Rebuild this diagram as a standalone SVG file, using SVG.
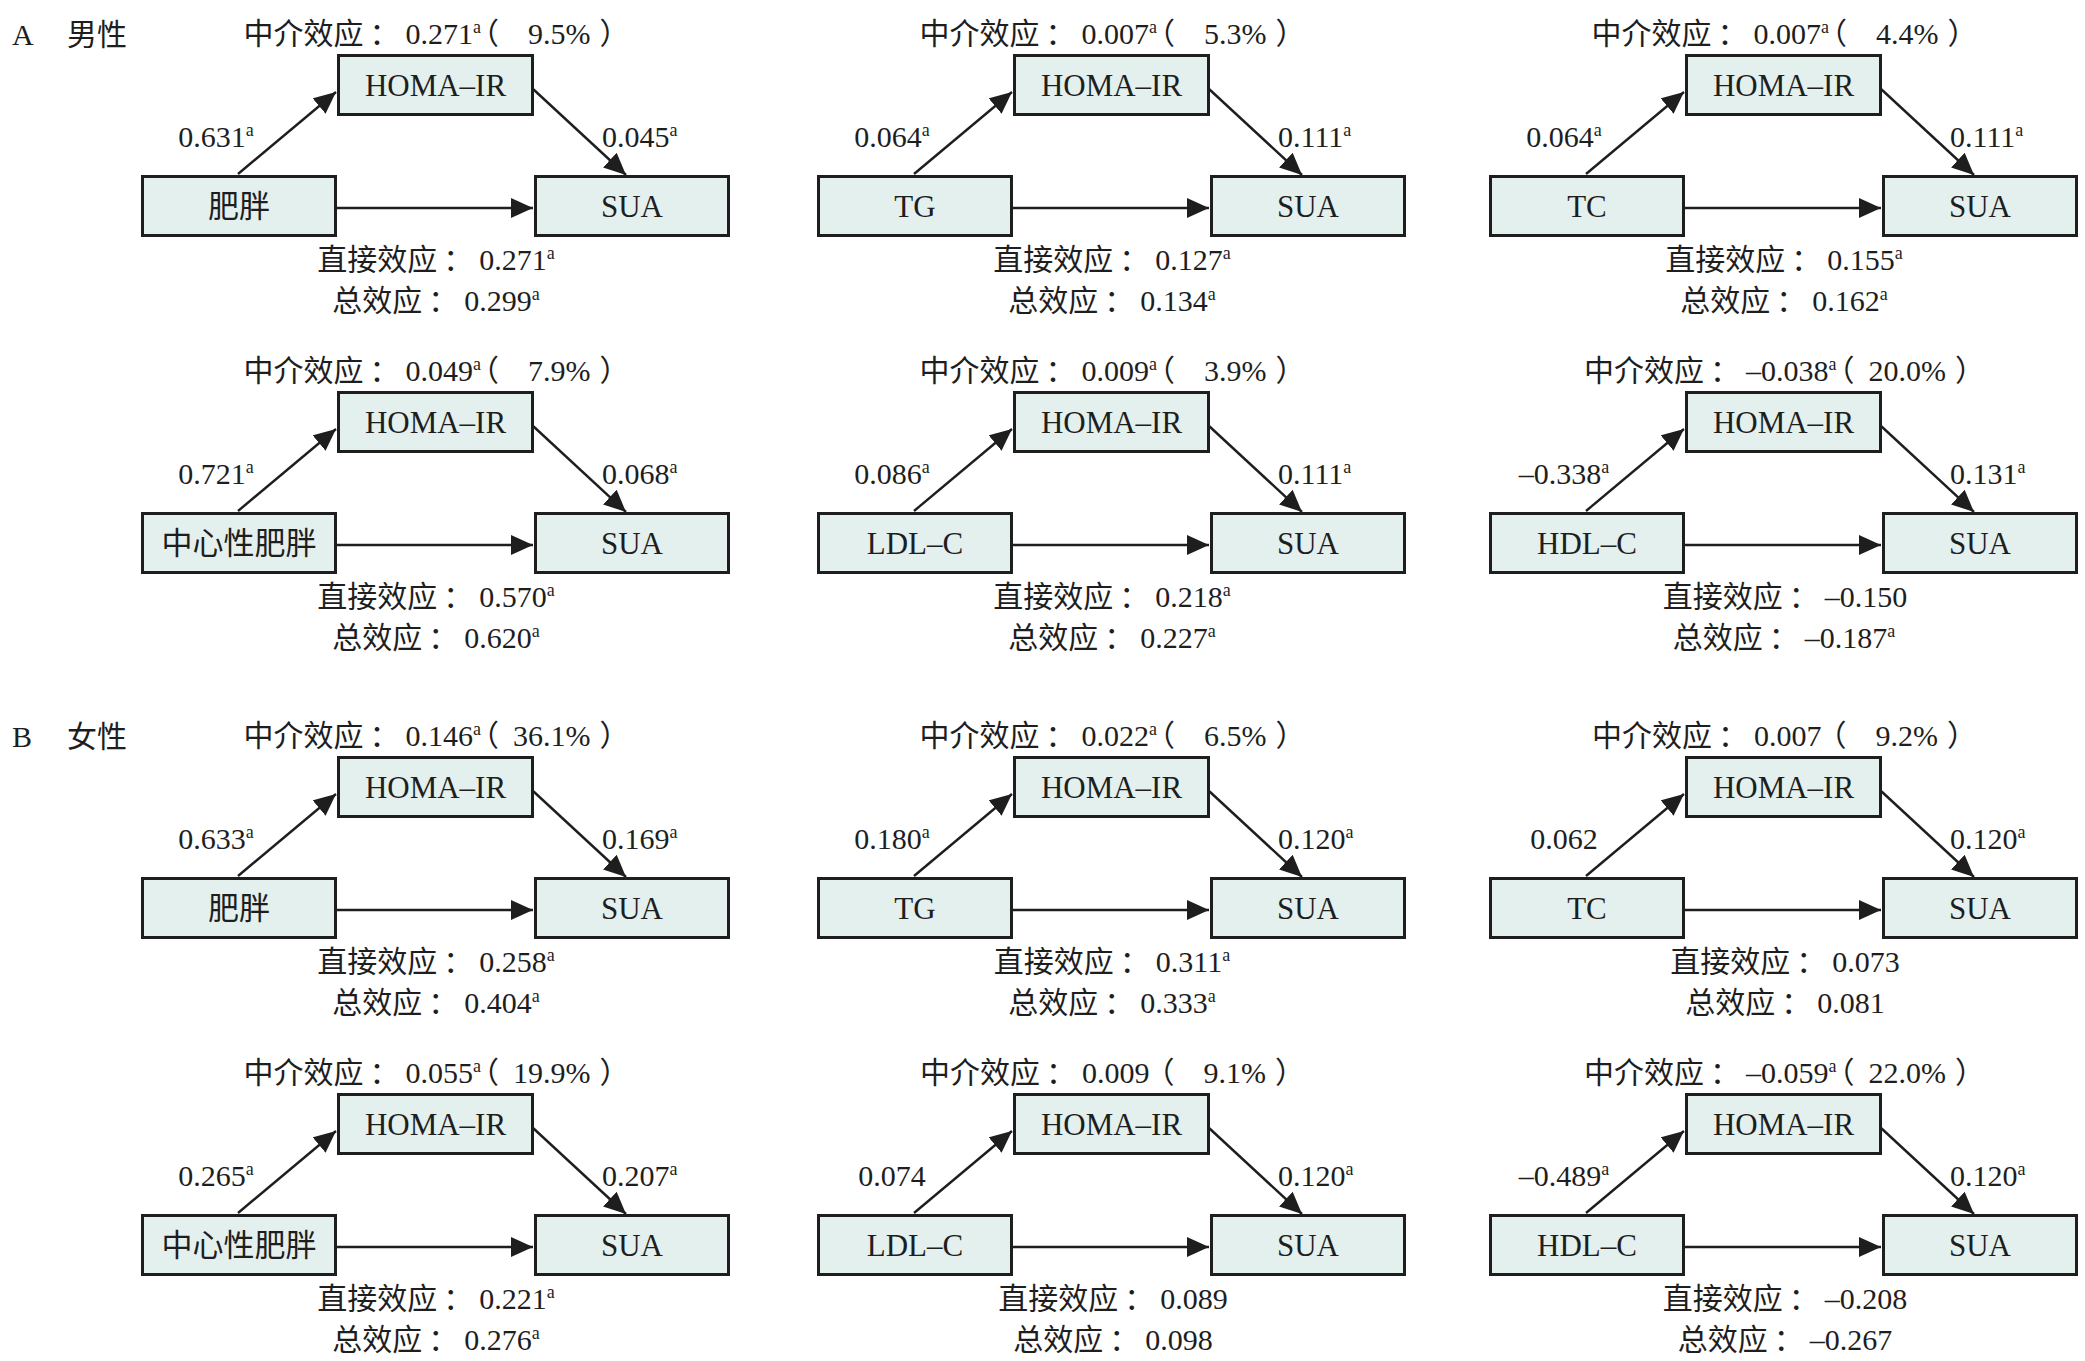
<svg xmlns="http://www.w3.org/2000/svg" width="2085" height="1361" viewBox="0 0 2085 1361">
<style>
text{font-family:"Liberation Serif","Noto Sans CJK SC",serif;fill:#1e1e1e;font-size:30px}
.m{text-anchor:middle}
.bl{font-size:31px;text-anchor:middle}
.s{font-size:18px}
.p{font-feature-settings:"halt" 1}
.box{fill:#e4f0ee;stroke:#1e1e1e;stroke-width:3}
.ln{stroke:#1e1e1e;stroke-width:2.4;fill:none;marker-end:url(#ah)}
</style>
<defs>
<marker id="ah" markerUnits="userSpaceOnUse" markerWidth="24" markerHeight="22" refX="22" refY="10" orient="auto" viewBox="0 0 24 22">
<path d="M0,0 L22,10 L0,20 Z" fill="#1e1e1e"/>
</marker>
<g id="tpl-conn">
<path class="ln" d="M238,174 L336,92"/>
<path class="ln" d="M533,89 L626,175"/>
<path class="ln" d="M336,208 L533,208"/>
</g>
</defs>
<rect width="2085" height="1361" fill="#ffffff"/>

<g id="section-labels">
<text x="12" y="45">A</text><text x="67" y="45">男性</text>
<text x="12" y="747">B</text><text x="67" y="747">女性</text>
</g>

<g id="connectors">
<use href="#tpl-conn" transform="translate(0,0)"/>
<use href="#tpl-conn" transform="translate(676,0)"/>
<use href="#tpl-conn" transform="translate(1348,0)"/>
<use href="#tpl-conn" transform="translate(0,337)"/>
<use href="#tpl-conn" transform="translate(676,337)"/>
<use href="#tpl-conn" transform="translate(1348,337)"/>
<use href="#tpl-conn" transform="translate(0,702)"/>
<use href="#tpl-conn" transform="translate(676,702)"/>
<use href="#tpl-conn" transform="translate(1348,702)"/>
<use href="#tpl-conn" transform="translate(0,1039)"/>
<use href="#tpl-conn" transform="translate(676,1039)"/>
<use href="#tpl-conn" transform="translate(1348,1039)"/>
</g>

<!-- Panel 1 -->
<g id="panel1" transform="translate(0,0)">
<g id="p1-x"><rect class="box" x="142.5" y="176.5" width="193" height="59"/><text class="bl" x="239" y="217">肥胖</text></g>
<g id="p1-m"><rect class="box" x="338.5" y="55.5" width="194" height="59"/><text class="bl" x="435.5" y="96">HOMA–IR</text></g>
<g id="p1-y"><rect class="box" x="535.5" y="176.5" width="193" height="59"/><text class="bl" x="632" y="217">SUA</text></g>
<text class="m" x="429" y="44">中介效应<tspan dx="6">：</tspan><tspan dx="6">0.271</tspan><tspan class="s" dy="-11">a</tspan><tspan class="p" dy="11" dx="3">（</tspan><tspan dx="29">9.5%</tspan><tspan class="p" dx="9">）</tspan></text>
<text class="m" x="216" y="147">0.631<tspan class="s" dy="-11">a</tspan></text>
<text x="602" y="147">0.045<tspan class="s" dy="-11">a</tspan></text>
<text class="m" x="436" y="270">直接效应<tspan dx="6">：</tspan><tspan dx="6">0.271</tspan><tspan class="s" dy="-11">a</tspan></text>
<text class="m" x="436" y="311">总效应<tspan dx="6">：</tspan><tspan dx="6">0.299</tspan><tspan class="s" dy="-11">a</tspan></text>
</g>

<!-- Panel 2 -->
<g id="panel2" transform="translate(676,0)">
<g id="p2-x"><rect class="box" x="142.5" y="176.5" width="193" height="59"/><text class="bl" x="239" y="217">TG</text></g>
<g id="p2-m"><rect class="box" x="338.5" y="55.5" width="194" height="59"/><text class="bl" x="435.5" y="96">HOMA–IR</text></g>
<g id="p2-y"><rect class="box" x="535.5" y="176.5" width="193" height="59"/><text class="bl" x="632" y="217">SUA</text></g>
<text class="m" x="429" y="44">中介效应<tspan dx="6">：</tspan><tspan dx="6">0.007</tspan><tspan class="s" dy="-11">a</tspan><tspan class="p" dy="11" dx="3">（</tspan><tspan dx="29">5.3%</tspan><tspan class="p" dx="9">）</tspan></text>
<text class="m" x="216" y="147">0.064<tspan class="s" dy="-11">a</tspan></text>
<text x="602" y="147">0.111<tspan class="s" dy="-11">a</tspan></text>
<text class="m" x="436" y="270">直接效应<tspan dx="6">：</tspan><tspan dx="6">0.127</tspan><tspan class="s" dy="-11">a</tspan></text>
<text class="m" x="436" y="311">总效应<tspan dx="6">：</tspan><tspan dx="6">0.134</tspan><tspan class="s" dy="-11">a</tspan></text>
</g>

<!-- Panel 3 -->
<g id="panel3" transform="translate(1348,0)">
<g id="p3-x"><rect class="box" x="142.5" y="176.5" width="193" height="59"/><text class="bl" x="239" y="217">TC</text></g>
<g id="p3-m"><rect class="box" x="338.5" y="55.5" width="194" height="59"/><text class="bl" x="435.5" y="96">HOMA–IR</text></g>
<g id="p3-y"><rect class="box" x="535.5" y="176.5" width="193" height="59"/><text class="bl" x="632" y="217">SUA</text></g>
<text class="m" x="429" y="44">中介效应<tspan dx="6">：</tspan><tspan dx="6">0.007</tspan><tspan class="s" dy="-11">a</tspan><tspan class="p" dy="11" dx="3">（</tspan><tspan dx="29">4.4%</tspan><tspan class="p" dx="9">）</tspan></text>
<text class="m" x="216" y="147">0.064<tspan class="s" dy="-11">a</tspan></text>
<text x="602" y="147">0.111<tspan class="s" dy="-11">a</tspan></text>
<text class="m" x="436" y="270">直接效应<tspan dx="6">：</tspan><tspan dx="6">0.155</tspan><tspan class="s" dy="-11">a</tspan></text>
<text class="m" x="436" y="311">总效应<tspan dx="6">：</tspan><tspan dx="6">0.162</tspan><tspan class="s" dy="-11">a</tspan></text>
</g>

<!-- Panel 4 -->
<g id="panel4" transform="translate(0,337)">
<g id="p4-x"><rect class="box" x="142.5" y="176.5" width="193" height="59"/><text class="bl" x="239" y="217">中心性肥胖</text></g>
<g id="p4-m"><rect class="box" x="338.5" y="55.5" width="194" height="59"/><text class="bl" x="435.5" y="96">HOMA–IR</text></g>
<g id="p4-y"><rect class="box" x="535.5" y="176.5" width="193" height="59"/><text class="bl" x="632" y="217">SUA</text></g>
<text class="m" x="429" y="44">中介效应<tspan dx="6">：</tspan><tspan dx="6">0.049</tspan><tspan class="s" dy="-11">a</tspan><tspan class="p" dy="11" dx="3">（</tspan><tspan dx="29">7.9%</tspan><tspan class="p" dx="9">）</tspan></text>
<text class="m" x="216" y="147">0.721<tspan class="s" dy="-11">a</tspan></text>
<text x="602" y="147">0.068<tspan class="s" dy="-11">a</tspan></text>
<text class="m" x="436" y="270">直接效应<tspan dx="6">：</tspan><tspan dx="6">0.570</tspan><tspan class="s" dy="-11">a</tspan></text>
<text class="m" x="436" y="311">总效应<tspan dx="6">：</tspan><tspan dx="6">0.620</tspan><tspan class="s" dy="-11">a</tspan></text>
</g>

<!-- Panel 5 -->
<g id="panel5" transform="translate(676,337)">
<g id="p5-x"><rect class="box" x="142.5" y="176.5" width="193" height="59"/><text class="bl" x="239" y="217">LDL–C</text></g>
<g id="p5-m"><rect class="box" x="338.5" y="55.5" width="194" height="59"/><text class="bl" x="435.5" y="96">HOMA–IR</text></g>
<g id="p5-y"><rect class="box" x="535.5" y="176.5" width="193" height="59"/><text class="bl" x="632" y="217">SUA</text></g>
<text class="m" x="429" y="44">中介效应<tspan dx="6">：</tspan><tspan dx="6">0.009</tspan><tspan class="s" dy="-11">a</tspan><tspan class="p" dy="11" dx="3">（</tspan><tspan dx="29">3.9%</tspan><tspan class="p" dx="9">）</tspan></text>
<text class="m" x="216" y="147">0.086<tspan class="s" dy="-11">a</tspan></text>
<text x="602" y="147">0.111<tspan class="s" dy="-11">a</tspan></text>
<text class="m" x="436" y="270">直接效应<tspan dx="6">：</tspan><tspan dx="6">0.218</tspan><tspan class="s" dy="-11">a</tspan></text>
<text class="m" x="436" y="311">总效应<tspan dx="6">：</tspan><tspan dx="6">0.227</tspan><tspan class="s" dy="-11">a</tspan></text>
</g>

<!-- Panel 6 -->
<g id="panel6" transform="translate(1348,337)">
<g id="p6-x"><rect class="box" x="142.5" y="176.5" width="193" height="59"/><text class="bl" x="239" y="217">HDL–C</text></g>
<g id="p6-m"><rect class="box" x="338.5" y="55.5" width="194" height="59"/><text class="bl" x="435.5" y="96">HOMA–IR</text></g>
<g id="p6-y"><rect class="box" x="535.5" y="176.5" width="193" height="59"/><text class="bl" x="632" y="217">SUA</text></g>
<text class="m" x="429" y="44">中介效应<tspan dx="6">：</tspan><tspan dx="6">–0.038</tspan><tspan class="s" dy="-11">a</tspan><tspan class="p" dy="11" dx="3">（</tspan><tspan dx="14">20.0%</tspan><tspan class="p" dx="9">）</tspan></text>
<text class="m" x="216" y="147">–0.338<tspan class="s" dy="-11">a</tspan></text>
<text x="602" y="147">0.131<tspan class="s" dy="-11">a</tspan></text>
<text class="m" x="437" y="270">直接效应<tspan dx="6">：</tspan><tspan dx="6">–0.150</tspan></text>
<text class="m" x="436" y="311">总效应<tspan dx="6">：</tspan><tspan dx="6">–0.187</tspan><tspan class="s" dy="-11">a</tspan></text>
</g>

<!-- Panel 7 -->
<g id="panel7" transform="translate(0,702)">
<g id="p7-x"><rect class="box" x="142.5" y="176.5" width="193" height="59"/><text class="bl" x="239" y="217">肥胖</text></g>
<g id="p7-m"><rect class="box" x="338.5" y="55.5" width="194" height="59"/><text class="bl" x="435.5" y="96">HOMA–IR</text></g>
<g id="p7-y"><rect class="box" x="535.5" y="176.5" width="193" height="59"/><text class="bl" x="632" y="217">SUA</text></g>
<text class="m" x="429" y="44">中介效应<tspan dx="6">：</tspan><tspan dx="6">0.146</tspan><tspan class="s" dy="-11">a</tspan><tspan class="p" dy="11" dx="3">（</tspan><tspan dx="14">36.1%</tspan><tspan class="p" dx="9">）</tspan></text>
<text class="m" x="216" y="147">0.633<tspan class="s" dy="-11">a</tspan></text>
<text x="602" y="147">0.169<tspan class="s" dy="-11">a</tspan></text>
<text class="m" x="436" y="270">直接效应<tspan dx="6">：</tspan><tspan dx="6">0.258</tspan><tspan class="s" dy="-11">a</tspan></text>
<text class="m" x="436" y="311">总效应<tspan dx="6">：</tspan><tspan dx="6">0.404</tspan><tspan class="s" dy="-11">a</tspan></text>
</g>

<!-- Panel 8 -->
<g id="panel8" transform="translate(676,702)">
<g id="p8-x"><rect class="box" x="142.5" y="176.5" width="193" height="59"/><text class="bl" x="239" y="217">TG</text></g>
<g id="p8-m"><rect class="box" x="338.5" y="55.5" width="194" height="59"/><text class="bl" x="435.5" y="96">HOMA–IR</text></g>
<g id="p8-y"><rect class="box" x="535.5" y="176.5" width="193" height="59"/><text class="bl" x="632" y="217">SUA</text></g>
<text class="m" x="429" y="44">中介效应<tspan dx="6">：</tspan><tspan dx="6">0.022</tspan><tspan class="s" dy="-11">a</tspan><tspan class="p" dy="11" dx="3">（</tspan><tspan dx="29">6.5%</tspan><tspan class="p" dx="9">）</tspan></text>
<text class="m" x="216" y="147">0.180<tspan class="s" dy="-11">a</tspan></text>
<text x="602" y="147">0.120<tspan class="s" dy="-11">a</tspan></text>
<text class="m" x="436" y="270">直接效应<tspan dx="6">：</tspan><tspan dx="6">0.311</tspan><tspan class="s" dy="-11">a</tspan></text>
<text class="m" x="436" y="311">总效应<tspan dx="6">：</tspan><tspan dx="6">0.333</tspan><tspan class="s" dy="-11">a</tspan></text>
</g>

<!-- Panel 9 -->
<g id="panel9" transform="translate(1348,702)">
<g id="p9-x"><rect class="box" x="142.5" y="176.5" width="193" height="59"/><text class="bl" x="239" y="217">TC</text></g>
<g id="p9-m"><rect class="box" x="338.5" y="55.5" width="194" height="59"/><text class="bl" x="435.5" y="96">HOMA–IR</text></g>
<g id="p9-y"><rect class="box" x="535.5" y="176.5" width="193" height="59"/><text class="bl" x="632" y="217">SUA</text></g>
<text class="m" x="429" y="44">中介效应<tspan dx="6">：</tspan><tspan dx="6">0.007</tspan><tspan class="p" dx="10">（</tspan><tspan dx="29">9.2%</tspan><tspan class="p" dx="9">）</tspan></text>
<text class="m" x="216" y="147">0.062</text>
<text x="602" y="147">0.120<tspan class="s" dy="-11">a</tspan></text>
<text class="m" x="437" y="270">直接效应<tspan dx="6">：</tspan><tspan dx="6">0.073</tspan></text>
<text class="m" x="437" y="311">总效应<tspan dx="6">：</tspan><tspan dx="6">0.081</tspan></text>
</g>

<!-- Panel 10 -->
<g id="panel10" transform="translate(0,1039)">
<g id="p10-x"><rect class="box" x="142.5" y="176.5" width="193" height="59"/><text class="bl" x="239" y="217">中心性肥胖</text></g>
<g id="p10-m"><rect class="box" x="338.5" y="55.5" width="194" height="59"/><text class="bl" x="435.5" y="96">HOMA–IR</text></g>
<g id="p10-y"><rect class="box" x="535.5" y="176.5" width="193" height="59"/><text class="bl" x="632" y="217">SUA</text></g>
<text class="m" x="429" y="44">中介效应<tspan dx="6">：</tspan><tspan dx="6">0.055</tspan><tspan class="s" dy="-11">a</tspan><tspan class="p" dy="11" dx="3">（</tspan><tspan dx="14">19.9%</tspan><tspan class="p" dx="9">）</tspan></text>
<text class="m" x="216" y="147">0.265<tspan class="s" dy="-11">a</tspan></text>
<text x="602" y="147">0.207<tspan class="s" dy="-11">a</tspan></text>
<text class="m" x="436" y="270">直接效应<tspan dx="6">：</tspan><tspan dx="6">0.221</tspan><tspan class="s" dy="-11">a</tspan></text>
<text class="m" x="436" y="311">总效应<tspan dx="6">：</tspan><tspan dx="6">0.276</tspan><tspan class="s" dy="-11">a</tspan></text>
</g>

<!-- Panel 11 -->
<g id="panel11" transform="translate(676,1039)">
<g id="p11-x"><rect class="box" x="142.5" y="176.5" width="193" height="59"/><text class="bl" x="239" y="217">LDL–C</text></g>
<g id="p11-m"><rect class="box" x="338.5" y="55.5" width="194" height="59"/><text class="bl" x="435.5" y="96">HOMA–IR</text></g>
<g id="p11-y"><rect class="box" x="535.5" y="176.5" width="193" height="59"/><text class="bl" x="632" y="217">SUA</text></g>
<text class="m" x="429" y="44">中介效应<tspan dx="6">：</tspan><tspan dx="6">0.009</tspan><tspan class="p" dx="10">（</tspan><tspan dx="29">9.1%</tspan><tspan class="p" dx="9">）</tspan></text>
<text class="m" x="216" y="147">0.074</text>
<text x="602" y="147">0.120<tspan class="s" dy="-11">a</tspan></text>
<text class="m" x="437" y="270">直接效应<tspan dx="6">：</tspan><tspan dx="6">0.089</tspan></text>
<text class="m" x="437" y="311">总效应<tspan dx="6">：</tspan><tspan dx="6">0.098</tspan></text>
</g>

<!-- Panel 12 -->
<g id="panel12" transform="translate(1348,1039)">
<g id="p12-x"><rect class="box" x="142.5" y="176.5" width="193" height="59"/><text class="bl" x="239" y="217">HDL–C</text></g>
<g id="p12-m"><rect class="box" x="338.5" y="55.5" width="194" height="59"/><text class="bl" x="435.5" y="96">HOMA–IR</text></g>
<g id="p12-y"><rect class="box" x="535.5" y="176.5" width="193" height="59"/><text class="bl" x="632" y="217">SUA</text></g>
<text class="m" x="429" y="44">中介效应<tspan dx="6">：</tspan><tspan dx="6">–0.059</tspan><tspan class="s" dy="-11">a</tspan><tspan class="p" dy="11" dx="3">（</tspan><tspan dx="14">22.0%</tspan><tspan class="p" dx="9">）</tspan></text>
<text class="m" x="216" y="147">–0.489<tspan class="s" dy="-11">a</tspan></text>
<text x="602" y="147">0.120<tspan class="s" dy="-11">a</tspan></text>
<text class="m" x="437" y="270">直接效应<tspan dx="6">：</tspan><tspan dx="6">–0.208</tspan></text>
<text class="m" x="437" y="311">总效应<tspan dx="6">：</tspan><tspan dx="6">–0.267</tspan></text>
</g>
</svg>
